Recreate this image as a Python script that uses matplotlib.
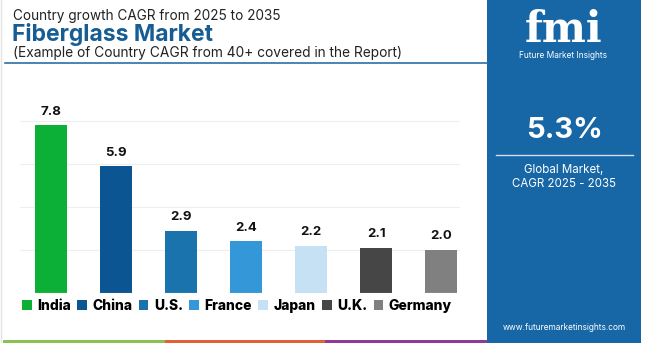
import matplotlib.pyplot as plt
from matplotlib.patches import Rectangle
from matplotlib.lines import Line2D

countries = ['India', 'China', 'U.S.', 'France', 'Japan', 'U.K.', 'Germany']
cagr = [7.8, 5.9, 2.9, 2.4, 2.2, 2.1, 2.0]
colors = ['#0db036', '#0a5592', '#1b73ad', '#3498d8', '#c5e1f3', '#464646', '#808080']
global_cagr = '5.3%'

plt.rcParams['font.family'] = ['Inter', 'DejaVu Sans']

W, H = 650, 343
fig = plt.figure(figsize=(6.5, 3.43), dpi=100)

def fx(px):
    return px / W

def fy(py):
    return 1 - py / H

# right info panel
fig.patches.append(Rectangle((fx(487), 0), fx(641) - fx(487), 1, transform=fig.transFigure,
                             facecolor='#1767a7', edgecolor='none', zorder=0))
# left thin border
fig.add_artist(Line2D([fx(1), fx(1)], [0, 1], color='#e4e4e4', lw=1))
# bottom colored stripes
for x0, x1, c in [(3, 165, '#8cc152'), (165, 325, '#e2603a'), (325, 487, '#8e3b95')]:
    fig.patches.append(Rectangle((fx(x0), 0), fx(x1) - fx(x0), 3.5 / H, transform=fig.transFigure,
                                 facecolor=c, edgecolor='none'))

# titles
fig.text(fx(13), fy(16), 'Country growth CAGR from 2025 to 2035', fontsize=9.8,
         color='#222222', va='center')
fig.text(fx(12), fy(35), 'Fiberglass Market', fontsize=16.5, fontweight='bold',
         color='#175d93', va='center')
fig.text(fx(13), fy(53), '(Example of Country CAGR from 40+ covered in the Report)', fontsize=9.9,
         color='#222222', va='center')
fig.add_artist(Line2D([fx(5), fx(487)], [fy(63), fy(63)], color='#2c6fa6', lw=1.2))

# chart
ax = fig.add_axes([fx(20), fy(293), fx(460) - fx(20), (293 - 108) / H])
x = list(range(len(countries)))
ax.bar(x, cagr, width=0.49, color=colors, zorder=2)
for xi, v in zip(x, cagr):
    ax.text(xi, v + 0.35, f'{v:.1f}', ha='center', va='bottom', fontsize=9.5,
            fontweight='bold', color='#111111')
ax.set_xlim(-0.477, 6.29)
ax.set_ylim(0, 8.6)
ax.set_yticks([2, 4, 6, 8])
ax.grid(axis='y', color='#eeeeee', lw=0.8, zorder=0)
ax.tick_params(left=False, bottom=False, labelleft=False, labelbottom=False)
for s in ax.spines.values():
    s.set_visible(False)
ax.axhline(0, color='#eeeeee', lw=0.8)

handles = [Rectangle((0, 0), 1, 1, facecolor=c) for c in colors]
leg = fig.legend(handles, countries, loc='center', bbox_to_anchor=(fx(237), fy(306)), ncol=7,
                 frameon=False, handlelength=0.7, handleheight=0.7, handletextpad=0.4,
                 columnspacing=0.45, prop={'weight': 'heavy', 'size': 10})

# panel contents
fig.text(fx(564), fy(30), 'fmi', fontsize=30, fontweight='bold', color='white',
         ha='center', va='center', family='DejaVu Serif')
fig.text(fx(563), fy(56), 'Future Market Insights', fontsize=6, color='white',
         ha='center', va='center')
fig.text(fx(564), fy(130), global_cagr, fontsize=21, fontweight='bold', color='white',
         ha='center', va='center')
fig.add_artist(Line2D([fx(496), fx(633)], [fy(155), fy(155)], color='#cfe0f0', lw=1))
fig.text(fx(564), fy(170), 'Global Market,', fontsize=8.3, color='white', ha='center', va='center')
fig.text(fx(564), fy(184), 'CAGR 2025 - 2035', fontsize=8.3, color='white', ha='center', va='center')
fig.text(fx(564), fy(327), 'www.futuremarketinsights.com', fontsize=6, color='white',
         ha='center', va='center')

fig.savefig('out.png', dpi=100)
